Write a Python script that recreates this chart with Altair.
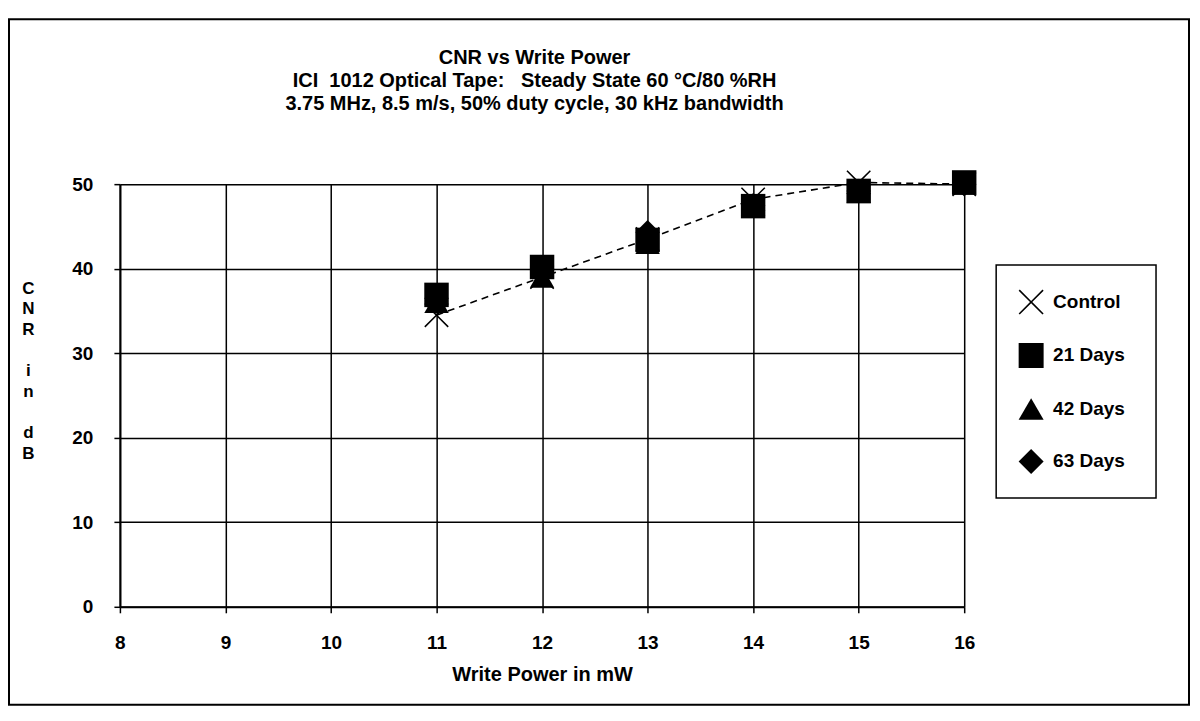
import altair as alt
import pandas as pd

# ---- data ----
power = [11, 12, 13, 14, 15, 16]
control = [34.5, 39.0, 43.5, 48.2, 50.2, 50.0]
days21 = [36.9, 40.2, 43.4, 47.4, 49.2, 50.2]
days42 = [36.0, 39.0, 43.0, 47.5, 49.0, 50.0]
days63 = [36.5, 40.0, 44.3, 47.5, 49.2, 50.0]

series_names = ["Control", "21 Days", "42 Days", "63 Days"]
x_ticks = [8, 9, 10, 11, 12, 13, 14, 15, 16]
y_ticks = [0, 10, 20, 30, 40, 50]

nb = "\u00a0"
zw = "\u200b"
title_lines = ["CNR vs Write Power",
               f"ICI{nb}{nb}1012 Optical Tape:{nb}{nb}{nb}Steady State 60 °C/80 %RH",
               "3.75 MHz, 8.5 m/s, 50% duty cycle, 30 kHz bandwidth"]

# drawing order: squares on top
draw = [("Control", control, 0), ("42 Days", days42, 1), ("63 Days", days63, 2), ("21 Days", days21, 3)]
rows = []
for name, vals, z in draw:
    for p, v in zip(power, vals):
        rows.append({"power": p, "cnr": v, "series": name, "z": z})
df = pd.DataFrame(rows)
line_df = pd.DataFrame({"power": power, "cnr": control})

a = 0.09
xpath = (f"M-1,{-1+a}L{-1+a},-1L0,{-a}L{1-a},-1L1,{-1+a}L{a},0L1,{1-a}L{1-a},1L0,{a}"
         f"L{-1+a},1L-1,{1-a}L{-a},0Z")

FONT = "Liberation Sans"

xscale = alt.Scale(domain=[8, 16], nice=False)
yscale = alt.Scale(domain=[0, 50], nice=False)

xaxis = alt.Axis(values=x_ticks, format="d", title="Write Power in mW", grid=True, gridColor="black",
                 gridWidth=1.5, domainColor="black", domainWidth=2, tickColor="black",
                 tickSize=6, tickWidth=1.5, labelFont=FONT, labelFontSize=19, labelFontWeight="bold",
                 labelColor="black", labelPadding=21, titleFont=FONT, titleFontSize=20,
                 titleFontWeight="bold", titleColor="black", titleBaseline="top", titleY=58,
                 labelFlush=False)
yaxis = alt.Axis(values=y_ticks, format="d", title=["C", "N", "R", zw, "i", "n", zw, "d", "B"], grid=True,
                 gridColor="black", gridWidth=1.5, domainColor="black", domainWidth=2,
                 tickColor="black", tickSize=6, tickWidth=1.5, labelFont=FONT, labelFontSize=19,
                 labelFontWeight="bold", labelColor="black", labelPadding=21, titleFont=FONT,
                 titleFontSize=17, titleFontWeight="bold", titleColor="black", titleAngle=0,
                 titleAlign="center", titleBaseline="top", titleX=-92, titleY=96,
                 titleLineHeight=20.7, labelFlush=False)

line = alt.Chart(line_df).mark_line(color="black", strokeDash=[7, 5], strokeWidth=1.6).encode(
    x=alt.X("power:Q", scale=xscale, axis=xaxis),
    y=alt.Y("cnr:Q", scale=yscale, axis=yaxis),
)

points = alt.Chart(df).mark_point(filled=True, color="black", opacity=1, size=600).encode(
    x=alt.X("power:Q", scale=xscale),
    y=alt.Y("cnr:Q", scale=yscale),
    shape=alt.Shape("series:N",
                    scale=alt.Scale(domain=series_names, range=[xpath, "square", "triangle-up", "diamond"]),
                    legend=alt.Legend(title=None, orient="none", legendX=899.5, legendY=105.5, padding=0,
                                      rowPadding=28.5, symbolSize=625, symbolFillColor="black",
                                      symbolStrokeWidth=0, symbolOpacity=1, labelFont=FONT,
                                      labelFontSize=19, labelFontWeight="bold", labelColor="black",
                                      labelOffset=9.5)),
    order=alt.Order("z:Q"),
)

deco = pd.DataFrame({"k": [0]})
legend_box = alt.Chart(deco).mark_rect(fill=None, stroke="black", strokeWidth=1.5).encode(
    x=alt.value(877), x2=alt.value(1037), y=alt.value(81), y2=alt.value(314))
frame = alt.Chart(deco).mark_rect(fill=None, stroke="black", strokeWidth=2).encode(
    x=alt.value(-111), x2=alt.value(1070), y=alt.value(-165), y2=alt.value(521))
title = alt.Chart(deco).mark_text(font=FONT, fontSize=20, fontWeight="bold", color="black",
                                  lineHeight=23, align="center", baseline="middle").encode(
    x=alt.value(415), y=alt.value(-126), text=alt.value(title_lines))

chart = alt.layer(frame, line, points, legend_box, title).properties(
    width=845, height=423,
    autosize="none",
    padding={"left": 112, "top": 176, "right": 228, "bottom": 103},
).configure_view(stroke="black", strokeWidth=1.5).configure(background="white")

chart.save("out.html", embed_options={"renderer": "svg", "actions": False})
